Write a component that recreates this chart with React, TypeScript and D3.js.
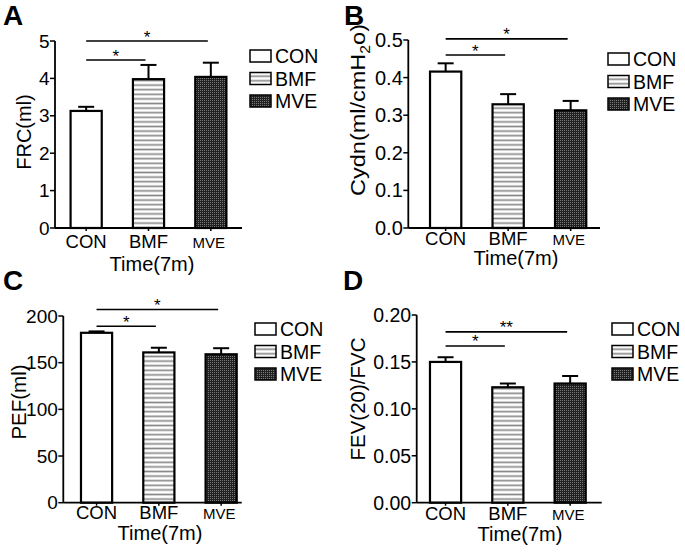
import React from "react";
import * as d3 from "d3";

// ---------- data ----------
const categories = ["CON", "BMF", "MVE"];

const frcMean = [3.13, 3.98, 4.04];
const frcErr = [0.11, 0.38, 0.38];
const frcTicks = [0, 1, 2, 3, 4, 5];
const frcSigLevels = [4.49, 5.0];
const frcSigLabels = ["*", "*"];

const cydnMean = [0.416, 0.329, 0.313];
const cydnErr = [0.022, 0.027, 0.025];
const cydnTicks = [0, 0.1, 0.2, 0.3, 0.4, 0.5];
const cydnSigLevels = [0.46, 0.503];
const cydnSigLabels = ["*", "*"];

const pefMean = [182, 161, 159];
const pefErr = [1.5, 5, 6.5];
const pefTicks = [0, 50, 100, 150, 200];
const pefSigLevels = [189, 207];
const pefSigLabels = ["*", "*"];

const fevMean = [0.15, 0.123, 0.127];
const fevErr = [0.005, 0.004, 0.008];
const fevTicks = [0, 0.05, 0.1, 0.15, 0.2];
const fevSigLevels = [0.167, 0.182];
const fevSigLabels = ["*", "**"];

const sigPairs = [
  [0, 1],
  [0, 2],
];

const FONT = "'Liberation Sans', Arial, Helvetica, sans-serif";
const fills = ["#ffffff", "url(#pat-bmf)", "url(#pat-mve)"];

type PanelCfg = {
  letter: string;
  letterX: number;
  letterY: number;
  mean: number[];
  err: number[];
  ticks: number[];
  fmt: (v: number) => string;
  tickSize: number;
  yRange: [number, number];
  xRange: [number, number];
  axisX: number;
  axisEnd: number;
  title: React.ReactNode;
  titleX: number;
  titleY: number;
  titleLen?: number;
  titleSize: number;
  legendX: number;
  legendY: number;
  catY: number;
  timeX: number;
  timeY: number;
  sigLevels: number[];
  sigLabels: string[];
};

function Panel({ c }: { c: PanelCfg }) {
  const yMax = c.ticks[c.ticks.length - 1];
  const y = d3.scaleLinear().domain([0, yMax]).range(c.yRange);
  const x = d3
    .scaleBand<string>()
    .domain(categories)
    .range(c.xRange)
    .paddingInner(0.5)
    .paddingOuter(0.25);
  const bw = x.bandwidth();
  const y0 = y(0);
  const cx = (i: number) => (x(categories[i]) as number) + bw / 2;
  return (
    <g fontFamily={FONT} fill="#000">
      <text x={c.letterX} y={c.letterY} fontSize={28} fontWeight="bold">
        {c.letter}
      </text>
      {/* bars */}
      {categories.map((cat, i) => (
        <g key={cat}>
          <line
            x1={cx(i)}
            x2={cx(i)}
            y1={y(c.mean[i])}
            y2={y(c.mean[i] + c.err[i])}
            stroke="#000"
            strokeWidth={2}
          />
          <line
            x1={cx(i) - 8}
            x2={cx(i) + 8}
            y1={y(c.mean[i] + c.err[i])}
            y2={y(c.mean[i] + c.err[i])}
            stroke="#000"
            strokeWidth={2}
          />
          <rect
            x={x(cat)}
            y={y(c.mean[i])}
            width={bw}
            height={y0 - y(c.mean[i])}
            fill={fills[i]}
            stroke="#000"
            strokeWidth={2.2}
          />
        </g>
      ))}
      {/* y axis */}
      <line x1={c.axisX} x2={c.axisX} y1={y(yMax)} y2={y0} stroke="#000" strokeWidth={1.8} />
      {c.ticks.map((t) => (
        <g key={t}>
          <line x1={c.axisX - 5} x2={c.axisX} y1={y(t)} y2={y(t)} stroke="#000" strokeWidth={1.5} />
          <text
            x={c.axisX - 5.5}
            y={y(t)}
            fontSize={c.tickSize}
            textAnchor="end"
            dominantBaseline="central"
          >
            {c.fmt(t)}
          </text>
        </g>
      ))}
      {/* x axis */}
      <line x1={c.axisX} x2={c.axisEnd} y1={y0} y2={y0} stroke="#000" strokeWidth={1.8} />
      {categories.map((cat, i) => (
        <g key={cat}>
          <line x1={cx(i)} x2={cx(i)} y1={y0} y2={y0 + 3} stroke="#000" strokeWidth={1.5} />
          <text
            x={cx(i) + (i === 2 ? -2 : 0)}
            y={c.catY}
            fontSize={i === 2 ? 15 : 18.5}
            textAnchor="middle"
          >
            {cat}
          </text>
        </g>
      ))}
      <text x={c.timeX} y={c.timeY} fontSize={20} textAnchor="middle">
        Time(7m)
      </text>
      <text
        transform={`translate(${c.titleX},${c.titleY}) rotate(-90)`}
        fontSize={c.titleSize}
        textAnchor="middle"
        dominantBaseline="central"
        textLength={c.titleLen}
        lengthAdjust={c.titleLen ? "spacingAndGlyphs" : undefined}
      >
        {c.title}
      </text>
      {/* significance */}
      {sigPairs.map(([a, b], k) => {
        const yy = y(c.sigLevels[k]);
        const x1 = cx(a);
        const x2 = cx(b) - 3;
        return (
          <g key={k}>
            <line x1={x1} x2={x2} y1={yy} y2={yy} stroke="#000" strokeWidth={1.6} />
            <text x={(x1 + x2) / 2} y={yy + 1.5} fontSize={17} textAnchor="middle">
              {c.sigLabels[k]}
            </text>
          </g>
        );
      })}
      {/* legend */}
      {categories.map((cat, i) => (
        <g key={cat} transform={`translate(${c.legendX},${c.legendY + i * 22.5})`}>
          <rect x={0} y={-6} width={21} height={12} fill={fills[i]} stroke="#000" strokeWidth={1.5} />
          <text x={25} y={0} fontSize={19.5} dominantBaseline="central">
            {cat}
          </text>
        </g>
      ))}
    </g>
  );
}

const f0 = (v: number) => d3.format("d")(v);
const f1 = d3.format(".1f");
const f2 = d3.format(".2f");

const panels: PanelCfg[] = [
  {
    letter: "A",
    letterX: 3,
    letterY: 25,
    mean: frcMean,
    err: frcErr,
    ticks: frcTicks,
    fmt: f0,
    tickSize: 19,
    yRange: [228, 41],
    xRange: [55, 242],
    axisX: 55,
    axisEnd: 242,
    title: "FRC(ml)",
    titleX: 24,
    titleY: 132,
    titleSize: 20,
    legendX: 250,
    legendY: 56,
    catY: 248,
    timeX: 152,
    timeY: 271,
    sigLevels: frcSigLevels,
    sigLabels: frcSigLabels,
  },
  {
    letter: "B",
    letterX: 344,
    letterY: 25,
    mean: cydnMean,
    err: cydnErr,
    ticks: cydnTicks,
    fmt: f1,
    tickSize: 20,
    yRange: [228, 40],
    xRange: [414.4, 601.9],
    axisX: 408.3,
    axisEnd: 600,
    title: (
      <>
        Cydn(ml/cmH<tspan baselineShift="sub" fontSize={14}>2</tspan>o)
      </>
    ),
    titleX: 357,
    titleY: 110,
    titleLen: 172,
    titleSize: 21,
    legendX: 608,
    legendY: 59,
    catY: 245,
    timeX: 516,
    timeY: 265,
    sigLevels: cydnSigLevels,
    sigLabels: cydnSigLabels,
  },
  {
    letter: "C",
    letterX: 3,
    letterY: 290,
    mean: pefMean,
    err: pefErr,
    ticks: pefTicks,
    fmt: f0,
    tickSize: 19,
    yRange: [502.7, 316],
    xRange: [65.4, 252.3],
    axisX: 63.3,
    axisEnd: 241.7,
    title: "PEF(ml)",
    titleX: 18,
    titleY: 402,
    titleSize: 20.5,
    legendX: 255,
    legendY: 329,
    catY: 519,
    timeX: 160,
    timeY: 540,
    sigLevels: pefSigLevels,
    sigLabels: pefSigLabels,
  },
  {
    letter: "D",
    letterX: 343,
    letterY: 290,
    mean: fevMean,
    err: fevErr,
    ticks: fevTicks,
    fmt: f2,
    tickSize: 19.5,
    yRange: [502.7, 315],
    xRange: [414.4, 601.3],
    axisX: 416.7,
    axisEnd: 601.7,
    title: "FEV(20)/FVC",
    titleX: 357,
    titleY: 399,
    titleSize: 20.5,
    legendX: 612,
    legendY: 329,
    catY: 520,
    timeX: 520,
    timeY: 541,
    sigLevels: fevSigLevels,
    sigLabels: fevSigLabels,
  },
];

export default function App() {
  return (
    <svg
      width={685}
      height={553}
      viewBox="0 0 685 553"
      style={{ position: "absolute", left: 0, top: 0, background: "#fff" }}
    >
      <defs>
        <pattern id="pat-bmf" patternUnits="userSpaceOnUse" width={6} height={4.6}>
          <rect width={6} height={4.6} fill="#fff" />
          <line x1={0} x2={6} y1={2.3} y2={2.3} stroke="#8a8a8a" strokeWidth={1.7} />
        </pattern>
        <pattern id="pat-mve" patternUnits="userSpaceOnUse" width={2} height={2}>
          <rect width={2} height={2} fill="#202020" />
          <rect width={1} height={1} fill="#7a7a7a" />
        </pattern>
      </defs>
      <rect width={685} height={553} fill="#fff" />
      {panels.map((p) => (
        <Panel key={p.letter} c={p} />
      ))}
    </svg>
  );
}
